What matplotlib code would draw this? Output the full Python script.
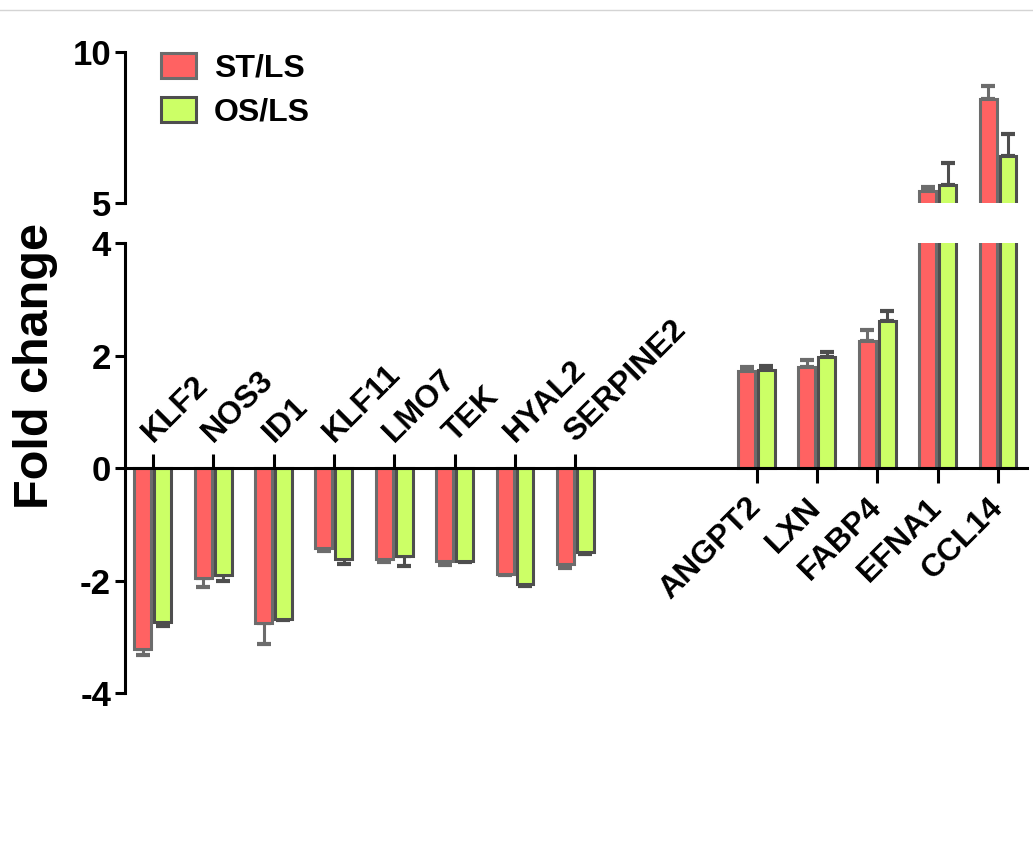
import matplotlib.pyplot as plt
import numpy as np
from matplotlib.lines import Line2D
from matplotlib.patches import Patch

plt.rcParams['font.family'] = ['Liberation Sans', 'DejaVu Sans']
plt.rcParams['font.weight'] = 'bold'
plt.rcParams['axes.unicode_minus'] = False

# genes and fold changes (down-regulated group, then up-regulated group)
genes_down = ['KLF2', 'NOS3', 'ID1', 'KLF11', 'LMO7', 'TEK', 'HYAL2', 'SERPINE2']
genes_up = ['ANGPT2', 'LXN', 'FABP4', 'EFNA1', 'CCL14']

st_ls = [-3.22, -1.96, -2.75, -1.42, -1.62, -1.65, -1.88, -1.70,
         1.73, 1.80, 2.25, 5.40, 8.45]
st_ls_err = [0.10, 0.15, 0.38, 0.05, 0.05, 0.08, 0.03, 0.08,
             0.07, 0.12, 0.20, 0.13, 0.42]
os_ls = [-2.73, -1.90, -2.68, -1.62, -1.57, -1.65, -2.06, -1.50,
         1.74, 1.97, 2.62, 5.60, 6.55]
os_ls_err = [0.07, 0.10, 0.03, 0.08, 0.18, 0.02, 0.04, 0.02,
             0.08, 0.10, 0.18, 0.72, 0.72]

lower_ticks = [-4, -2, 0, 2, 4]
upper_ticks = [5, 10]

colors = {
    'st': '#ff6262',
    'os': '#ccff66',
    'st_edge': '#6c6c6c',
    'os_edge': '#4e4e4e',
}

x_down = np.arange(len(genes_down))
x_up = np.arange(len(genes_up)) + len(genes_down) + 2
x = np.concatenate([x_down, x_up])

bar_w = 0.28
off = 0.165
lw = 2.2


def one_sided(vals, errs):
    vals = np.asarray(vals)
    errs = np.asarray(errs)
    return [np.where(vals < 0, errs, 0), np.where(vals > 0, errs, 0)]


def draw_bars(ax):
    for vals, errs, fc, ec, dx in [(st_ls, st_ls_err, colors['st'], colors['st_edge'], -off),
                                   (os_ls, os_ls_err, colors['os'], colors['os_edge'], off)]:
        ax.errorbar(x + dx, vals, yerr=one_sided(vals, errs), fmt='none', ecolor=ec,
                    elinewidth=2.2, capsize=5, capthick=3, zorder=1)
        ax.bar(x + dx, vals, width=bar_w, color=fc, edgecolor=ec, linewidth=lw, zorder=2)


fig = plt.figure(figsize=(10.33, 8.5), dpi=100)
ax_lo = fig.add_axes([0.121, 0.1847, 0.8732, 0.5294])
ax_hi = fig.add_axes([0.121, 0.7612, 0.8732, 0.1776])

for ax in (ax_lo, ax_hi):
    draw_bars(ax)
    ax.set_xlim(-0.46, x[-1] + 0.48)
    for s in ('top', 'right'):
        ax.spines[s].set_visible(False)
    ax.spines['left'].set_linewidth(lw)
    ax.tick_params(axis='y', direction='out', length=7, width=lw, pad=3, labelsize=25)

# lower segment: -4 .. 4, zero line carries the gene ticks
ax_lo.set_ylim(-4, 4)
ax_lo.set_yticks(lower_ticks)
ax_lo.spines['bottom'].set_position(('data', 0))
ax_lo.spines['bottom'].set_linewidth(lw)
ax_lo.spines['bottom'].set_zorder(3)
ax_lo.set_xticks(x_up, labels=genes_up)
ax_lo.tick_params(axis='x', direction='out', length=11, width=lw, pad=14, labelsize=23)
plt.setp(ax_lo.get_xticklabels(), rotation=45, ha='right', va='center', rotation_mode='anchor')

sec = ax_lo.secondary_xaxis(0, transform=ax_lo.transData)
sec.set_alignment('top')
sec.spines['top'].set_visible(False)
sec.set_xticks(x_down, labels=genes_down)
sec.tick_params(axis='x', direction='out', length=10, width=lw, pad=8, labelsize=23)
plt.setp(sec.get_xticklabels(), rotation=45, ha='left', va='baseline', rotation_mode='anchor')

# upper segment: 5 .. 10
ax_hi.set_ylim(5, 10)
ax_hi.set_yticks(upper_ticks)
ax_hi.spines['bottom'].set_visible(False)
ax_hi.set_xticks([])

fig.text(36 / 1033, 1 - 366 / 850, 'Fold change', fontsize=35, fontweight='bold',
         rotation=90, ha='center', va='center')

handles = [Patch(facecolor=colors['st'], edgecolor=colors['st_edge'], linewidth=lw),
           Patch(facecolor=colors['os'], edgecolor=colors['os_edge'], linewidth=lw)]
fig.legend(handles, ['ST/LS', 'OS/LS'], loc='upper left',
           bbox_to_anchor=(161 / 1033, 1 - 53 / 850), frameon=False, fontsize=23,
           handlelength=1.1, handleheight=0.85, handletextpad=0.55,
           labelspacing=0.4, borderpad=0, borderaxespad=0)

fig.add_artist(Line2D([0, 1], [1 - 9.5 / 850] * 2, color='#d4d4d4', linewidth=1))

plt.savefig('out.png', dpi=100)
